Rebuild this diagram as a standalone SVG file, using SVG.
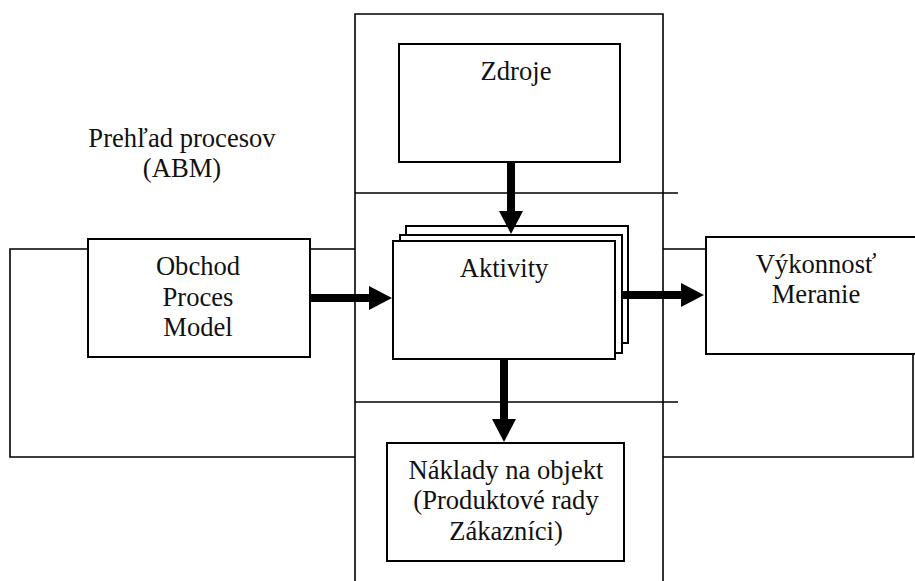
<svg xmlns="http://www.w3.org/2000/svg" width="915" height="581" viewBox="0 0 915 581">
<style>
.frame{fill:none;stroke:#000;stroke-width:1.6}
.box{fill:#fff;stroke:#000;stroke-width:2}
.t{font-family:"Liberation Serif","Times New Roman",serif;font-size:26.6px;fill:#111;text-anchor:middle}
.arr{stroke:#000;stroke-width:8;fill:none;marker-end:url(#ah)}
</style>
<defs>
<marker id="ah" markerUnits="userSpaceOnUse" markerWidth="24" markerHeight="24" refX="0" refY="12" orient="auto" viewBox="0 0 24 24">
<path d="M0,0 L23,12 L0,24 Z" fill="#000"/>
</marker>
</defs>
<g id="frame">
<path class="frame" d="M355,590 V14 H663 V590"/>
<line class="frame" x1="355" y1="193" x2="678" y2="193"/>
<line class="frame" x1="355" y1="402" x2="678" y2="402"/>
<path class="frame" d="M355,249 H10 V457 H355"/>
<path class="frame" d="M663,249 H710 M913,350 V457 H663"/>
</g>
<g id="title">
<text class="t" x="182" y="147">Prehľad procesov</text>
<text class="t" x="182" y="177">(ABM)</text>
</g>
<g id="zdroje">
<rect class="box" x="399" y="44" width="221" height="118"/>
<text class="t" x="516" y="80">Zdroje</text>
</g>
<g id="obchod">
<rect class="box" x="88" y="239" width="222" height="118"/>
<text class="t" x="198" y="275">Obchod</text>
<text class="t" x="198" y="306">Proces</text>
<text class="t" x="198" y="336">Model</text>
</g>
<g id="aktivity">
<rect class="box" x="406" y="226" width="222" height="117"/>
<rect class="box" x="400" y="235" width="222" height="118"/>
<rect class="box" x="393" y="241" width="222" height="118"/>
<text class="t" x="504" y="277">Aktivity</text>
</g>
<g id="vykonnost">
<rect class="box" x="706" y="237" width="220" height="117"/>
<text class="t" x="816" y="273">Výkonnosť</text>
<text class="t" x="816" y="303">Meranie</text>
</g>
<g id="naklady">
<rect class="box" x="387" y="443" width="237" height="118"/>
<text class="t" x="506" y="479">Náklady na objekt</text>
<text class="t" x="506" y="509">(Produktové rady</text>
<text class="t" x="506" y="540">Zákazníci)</text>
</g>
<g id="connectors">
<line class="arr" x1="511" y1="162" x2="511" y2="211"/>
<line class="arr" x1="310" y1="298" x2="369" y2="298"/>
<line class="arr" x1="622" y1="295" x2="681" y2="295"/>
<line class="arr" x1="504" y1="359" x2="504" y2="419"/>
</g>
</svg>
